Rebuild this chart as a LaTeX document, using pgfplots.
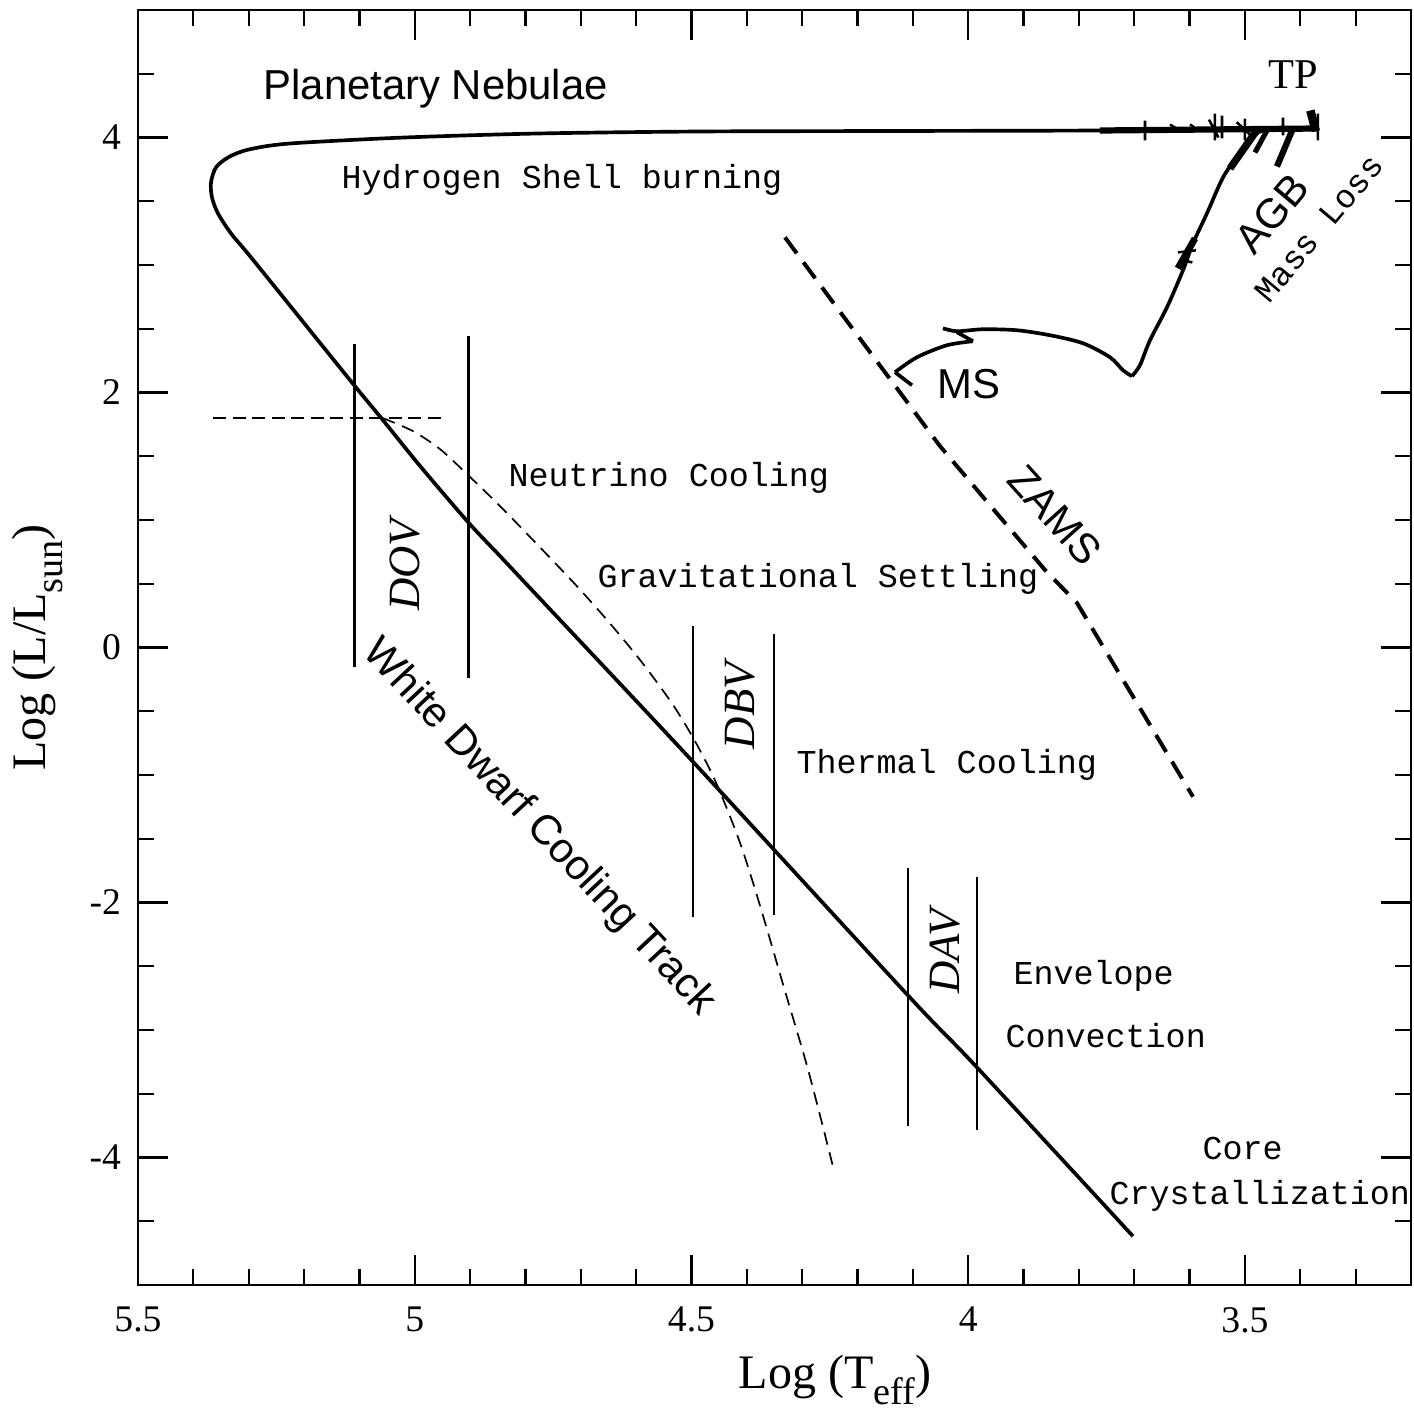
\documentclass[border=0pt]{standalone}
\usepackage{fontspec}
\setmainfont{Liberation Serif}
\newfontfamily\sansf{Liberation Sans}
\newfontfamily\monof{Liberation Mono}
\usepackage{pgfplots}
\pgfplotsset{compat=1.18}
\begin{document}
\begin{tikzpicture}
\begin{axis}[
  scale only axis, width=450.1pt, height=450.8pt,
  x dir=reverse, xmin=3.2, xmax=5.5, ymin=-5, ymax=5,
  xtick={3.5,4,4.5,5,5.5}, xticklabels={3.5,4,4.5,5,5.5},
  ytick={-4,-2,0,2,4}, yticklabels={-4,-2,0,2,4},
  minor xtick={3.3,3.4,3.6,3.7,3.8,3.9,4.1,4.2,4.3,4.4,4.6,4.7,4.8,4.9,5.1,5.2,5.3,5.4},
  minor ytick={-4.5,-3.5,-3,-2.5,-1.5,-1,-0.5,0.5,1,1.5,2.5,3,3.5,4.5},
  major tick length=10.6pt, minor tick length=5.7pt,
  tick align=inside, tick style={line width=0.8pt, black},
  axis line style={line width=0.95pt},
  ticklabel style={font=\fontsize{13.3}{15}\selectfont},
  xticklabel style={yshift=-4.3pt},
  yticklabel style={xshift=-2.5pt},
  clip=false,
  unbounded coords=jump,
]
% vertical instability strips
\addplot[black, line width=0.75pt] coordinates {(5.1089,2.3784)(5.1089,-0.152)};
\addplot[black, line width=0.75pt] coordinates {(4.9029,2.441)(4.9029,-0.2382)};
\addplot[black, line width=0.75pt] coordinates {(4.4973,0.1693)(4.4973,-2.1104)};
\addplot[black, line width=0.75pt] coordinates {(4.3509,0.1066)(4.3509,-2.0948)};
\addplot[black, line width=0.75pt] coordinates {(4.1088,-1.7266)(4.1088,-3.7556)};
\addplot[black, line width=0.75pt] coordinates {(3.9842,-1.7971)(3.9842,-3.7869)};
% thin dashed lines
\addplot[black, line width=0.6pt, dash pattern=on 4.6pt off 2.3pt] coordinates {(5.3645,1.7987)(4.949,1.7987)};
\addplot[black, line width=0.6pt, dash pattern=on 4.5pt off 2.8pt, smooth] coordinates {
(5.0574,1.7987)(5.0032,1.6968)(4.9544,1.5558)(4.9056,1.36)(4.846,1.1093)(4.7864,0.843)
(4.7141,0.514)(4.6527,0.2162)(4.593,-0.0972)(4.5334,-0.4497)(4.4901,-0.763)(4.454,-1.0764)
(4.4124,-1.5307)(4.3762,-2.0243)(4.3329,-2.6667)(4.2895,-3.3091)(4.2444,-4.069)};
% ZAMS
\addplot[black, line width=1.4pt, dash pattern=on 7pt off 4pt] coordinates {
(4.3311,3.2166)(4.2136,2.5272)(4.051,1.5793)(3.9426,1.0231)(3.8613,0.6079)(3.8035,0.3494)(3.5939,-1.1704)};
% evolutionary track
\addplot[black, line width=1.3pt] coordinates {(4.1016,2.057)(4.1323,2.159)};
\addplot[black, line width=1.3pt, smooth] coordinates {(4.1323,2.159)(4.0926,2.2765)(4.0384,2.3705)(3.9914,2.402)};
\addplot[black, line width=1.3pt] coordinates {(3.9914,2.402)(4.0203,2.4724)};
\addplot[black, line width=1.3pt, smooth] coordinates {(4.0456,2.5037)(4.0203,2.4802)(3.9734,2.4959)(3.9119,2.4881)(3.8523,2.4489)(3.7927,2.3862)(3.7439,2.2765)(3.7204,2.1747)(3.7042,2.1277)};
\addplot[black, line width=1.3pt, smooth] coordinates {(3.7042,2.1277)(3.6897,2.2139)(3.6716,2.4097)(3.6409,2.6682)(3.612,2.9581)(3.5939,3.1696)(3.5687,3.4046)(3.5397,3.6866)(3.5145,3.8433)(3.491,3.9765)(3.4675,4.0548)(3.4006,4.0705)(3.3681,4.0705)};
\addplot[black, line width=1.3pt, smooth] coordinates {
(3.3681,4.0705)(3.5813,4.0627)(3.762,4.0548)(4.1233,4.051)(4.4846,4.047)(4.7773,4.0313)
(5.0176,4.0)(5.1983,3.9608)(5.2597,3.9373)(5.3067,3.8982)(5.3374,3.8433)(5.3591,3.765)
(5.3681,3.6475)(5.3663,3.53)(5.3555,3.4046)(5.332,3.2479)(5.2958,3.0599)
(5.2019,2.5546)(5.108,2.0494)(5.0574,1.783)(4.9887,1.4148)(4.9038,0.9839)
(4.846,0.7176)(4.7918,0.4669)(4.4973,-0.8962)(4.107,-2.7372)(3.9842,-3.2933)(3.7024,-4.6173)};
% thermal pulses: thickening and spikes
\addplot[black, line width=2.2pt] coordinates {(3.762,4.0548)(3.3681,4.0705)};
\addplot[black, line width=2.6pt] coordinates {(3.4765,4.0705)(3.5271,3.7572)};
\addplot[black, line width=1.8pt] coordinates {(3.4602,4.0548)(3.4819,3.8825)};
\addplot[black, line width=2.2pt] coordinates {(3.4133,4.0705)(3.4422,3.7728)};
\addplot[black, line width=3pt] coordinates {(3.3819,4.2115)(3.372,4.05)};
\addplot[black, line width=2.4pt] coordinates {(3.6211,2.9738)(3.5903,3.2088)};
\addplot[black, line width=0.9pt] coordinates {
(3.6806,4.1332)(3.6806,3.9765)(3.6,nan)
(3.6355,4.1018)(3.62,4.06)(3.6,nan)
(3.5993,4.1018)(3.585,4.06)(3.5,nan)
(3.5542,4.188)(3.5542,3.9765)(3.5,nan)
(3.5415,4.1723)(3.5415,3.9922)(3.5,nan)
(3.565,4.14)(3.548,4.0)(3.5,nan)
(3.5,4.1488)(3.5,3.9765)(3.4,nan)
(3.515,4.12)(3.49,4.02)(3.4,nan)
(3.4313,4.1567)(3.4313,4.0157)(3.4,nan)
(3.3681,4.188)(3.3681,3.9765)(3.6,nan)
(3.6211,3.0991)(3.5885,3.1148)(3.6,nan)
(3.615,3.04)(3.595,3.02)};
% texts
\node[anchor=base west, inner sep=0, font=\sansf\fontsize{14.8}{17}\selectfont] at (axis cs:5.2742,4.2977) {Planetary Nebulae};
\node[anchor=base west, inner sep=0, font=\fontsize{15}{17}\selectfont] at (axis cs:3.4584,4.3839) {TP};
\node[anchor=base west, inner sep=0, font=\sansf\fontsize{14.8}{17}\selectfont] at (axis cs:4.0564,1.9553) {MS};
\node[rotate=50, inner sep=0, font=\sansf\fontsize{14.8}{17}\selectfont] at (axis cs:3.4512,3.4046) {AGB};
\node[rotate=50, inner sep=0, font=\monof\fontsize{11.8}{14}\selectfont] at (axis cs:3.3663,3.2871) {Mass Loss};
\node[rotate=-48, inner sep=0, font=\sansf\fontsize{14.8}{17}\selectfont] at (axis cs:3.8433,1.0388) {ZAMS};
\node[rotate=-47, inner sep=0, font=\sansf\fontsize{14.8}{17}\selectfont] at (axis cs:4.7755,-1.4132) {White Dwarf Cooling Track};
\node[rotate=90, inner sep=0, font=\itshape\fontsize{15.8}{18}\selectfont] at (axis cs:5.0176,0.6471) {DOV};
\node[rotate=90, inner sep=0, font=\itshape\fontsize{15.8}{18}\selectfont] at (axis cs:4.4124,-0.4575) {DBV};
\node[rotate=90, inner sep=0, font=\itshape\fontsize{15.8}{18}\selectfont] at (axis cs:4.042,-2.3846) {DAV};
\node[anchor=base west, inner sep=0, font=\monof\fontsize{11.8}{14}\selectfont] at (axis cs:5.1332,3.6005) {Hydrogen Shell burning};
\node[anchor=base west, inner sep=0, font=\monof\fontsize{11.8}{14}\selectfont] at (axis cs:4.8315,1.266) {Neutrino Cooling};
\node[anchor=base west, inner sep=0, font=\monof\fontsize{11.8}{14}\selectfont] at (axis cs:4.6707,0.4669) {Gravitational Settling};
\node[anchor=base west, inner sep=0, font=\monof\fontsize{11.8}{14}\selectfont] at (axis cs:4.3112,-0.9902) {Thermal Cooling};
\node[anchor=base west, inner sep=0, font=\monof\fontsize{11.8}{14}\selectfont] at (axis cs:3.9192,-2.6432) {Envelope};
\node[anchor=base west, inner sep=0, font=\monof\fontsize{11.8}{14}\selectfont] at (axis cs:3.9336,-3.1367) {Convection};
\node[anchor=base west, inner sep=0, font=\monof\fontsize{11.8}{14}\selectfont] at (axis cs:3.5777,-4.0141) {Core};
\node[anchor=base west, inner sep=0, font=\monof\fontsize{11.8}{14}\selectfont] at (axis cs:3.7457,-4.3666) {Crystallization};
% axis labels
\node[rotate=90, inner sep=0, font=\fontsize{17}{20}\selectfont] at ([xshift=-35.4pt]axis cs:5.5,0) {Log (L/L\raisebox{-0.35em}{\fontsize{13.5}{14}\selectfont sun})};
\node[inner sep=0, font=\fontsize{17}{20}\selectfont] at ([yshift=-33.6pt]axis cs:4.2407,-5) {Log (T\raisebox{-0.35em}{\fontsize{13.5}{14}\selectfont eff})};
\coordinate (bl) at (axis cs:5.5,-5);
\coordinate (tr) at (axis cs:3.2,5);
\end{axis}
\pgfresetboundingbox
\path ([shift={(-48.8pt,-44.55pt)}]bl) rectangle ([shift={(1.06pt,3.54pt)}]tr);
\end{tikzpicture}
\end{document}
